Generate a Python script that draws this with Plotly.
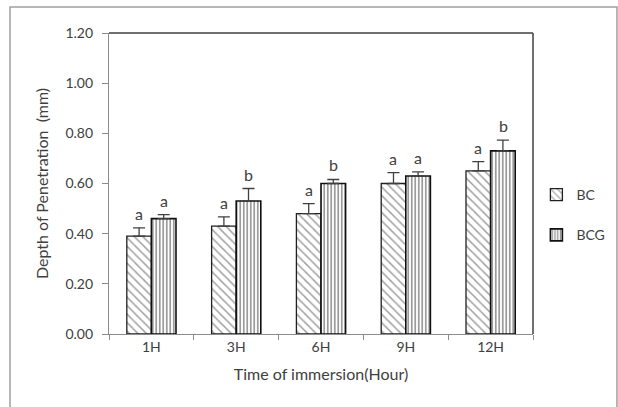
import plotly.graph_objects as go

categories = ["1H", "3H", "6H", "9H", "12H"]
bc_values = [0.39, 0.43, 0.48, 0.60, 0.65]
bc_errors = [0.033, 0.037, 0.040, 0.043, 0.037]
bcg_values = [0.46, 0.53, 0.60, 0.63, 0.73]
bcg_errors = [0.016, 0.050, 0.016, 0.016, 0.043]
bc_letters = ["a", "a", "a", "a", "a"]
bcg_letters = ["a", "b", "b", "a", "b"]
y_ticks = [0.0, 0.2, 0.4, 0.6, 0.8, 1.0, 1.2]

FONT = "Lato"
TXT = "#404040"

fig = go.Figure()
fig.add_trace(go.Bar(
    name="BC", x=categories, y=bc_values, legendgroup="g1",
    error_y=dict(type="data", array=bc_errors, symmetric=False, arrayminus=[0]*5,
                 color="#404040", thickness=1.3, width=6),
    marker=dict(color="white", line=dict(color="#202020", width=1.3),
                pattern=dict(shape="\\", fgcolor="#404040", bgcolor="white",
                             size=6, solidity=0.25)),
))
fig.add_trace(go.Bar(
    name="BCG", x=categories, y=bcg_values, legendgroup="g2",
    error_y=dict(type="data", array=bcg_errors, symmetric=False, arrayminus=[0]*5,
                 color="#404040", thickness=1.3, width=6),
    marker=dict(color="white", line=dict(color="#101010", width=1.6),
                pattern=dict(shape="|", fgcolor="#202020", bgcolor="white",
                             size=3.5, solidity=0.45)),
))

for i, c in enumerate(categories):
    fig.add_annotation(x=c, y=bc_values[i] + bc_errors[i], text=bc_letters[i],
                       xshift=-12.5, yshift=3, yanchor="bottom", showarrow=False,
                       font=dict(family=FONT, size=16, color=TXT))
    fig.add_annotation(x=c, y=bcg_values[i] + bcg_errors[i], text=bcg_letters[i],
                       xshift=12.5, yshift=3, yanchor="bottom", showarrow=False,
                       font=dict(family=FONT, size=16, color=TXT))

# outer frame and plot box
fig.add_shape(type="rect", xref="paper", yref="paper", x0=-0.2335, x1=1.198,
              y0=-0.245, y1=1.0864, line=dict(color="#a0a0a0", width=1.5))
fig.add_shape(type="line", xref="paper", yref="paper", x0=0, x1=1, y0=1, y1=1,
              line=dict(color="#404040", width=1.5))
fig.add_shape(type="line", xref="paper", yref="paper", x0=1, x1=1, y0=0, y1=1,
              line=dict(color="#404040", width=1.5))

fig.update_layout(
    width=618, height=407,
    margin=dict(l=109, r=85, t=33, b=73, autoexpand=False),
    paper_bgcolor="white", plot_bgcolor="white",
    barmode="group", bargap=0.42, bargroupgap=0,
    font=dict(family=FONT, size=13, color=TXT),
    showlegend=True,
    legend=dict(x=0.008, y=0.395, xref="container" if False else "paper",
                xanchor="left", yanchor="middle",
                font=dict(family=FONT, size=14, color=TXT),
                tracegroupgap=19, itemwidth=30, bgcolor="rgba(0,0,0,0)"),
    xaxis=dict(showline=True, linecolor="#8c8c8c", linewidth=1.2,
               ticks="outside", tickson="boundaries", ticklen=5, tickcolor="#8c8c8c",
               tickfont=dict(family=FONT, size=14, color=TXT),
               title=dict(text="Time of immersion(Hour)", standoff=14,
                          font=dict(family=FONT, size=16, color=TXT))),
    yaxis=dict(range=[0, 1.2], tickvals=y_ticks, tickformat=".2f",
               showline=True, linecolor="#8c8c8c", linewidth=1.2,
               ticks="outside", ticklen=6, tickcolor="#8c8c8c", showgrid=False,
               zeroline=False, ticklabelstandoff=6,
               tickfont=dict(family=FONT, size=14, color=TXT),
               title=dict(text="Depth of Penetration  (mm)", standoff=12,
                          font=dict(family=FONT, size=16, color=TXT))),
)
fig.update_layout(legend=dict(x=1.008))

fig.write_html("out.html", config={"displayModeBar": False},
               post_script="document.body.style.margin='0';document.body.style.overflow='hidden';")
